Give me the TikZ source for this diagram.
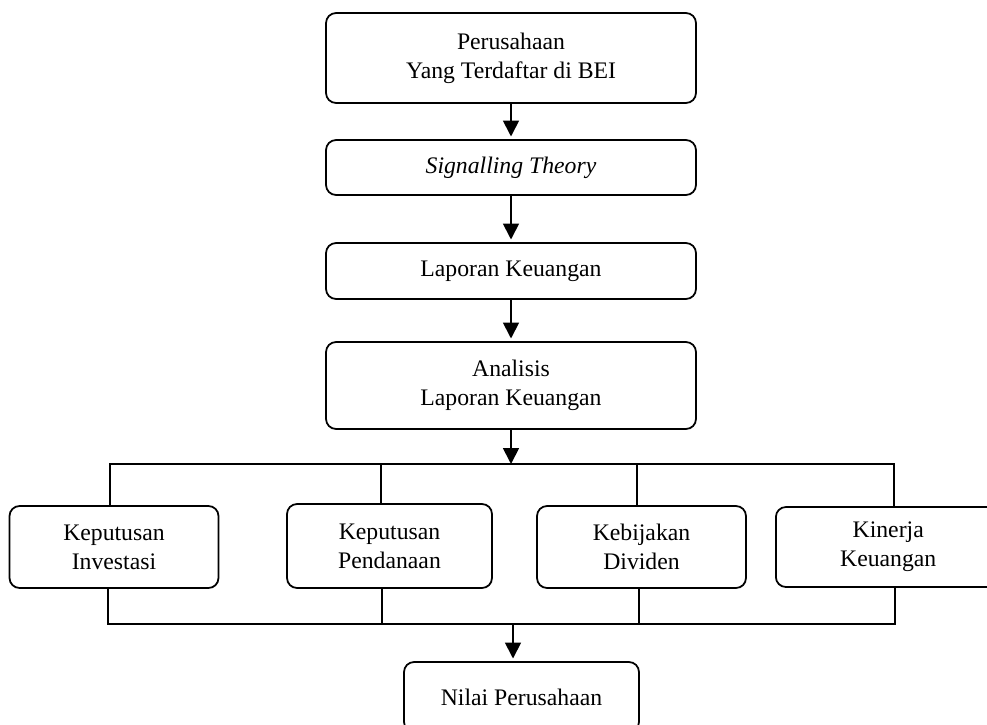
\documentclass[tikz,border=0pt]{standalone}
\usepackage{fontspec}
\setmainfont{Liberation Serif}
\usetikzlibrary{arrows.meta}

\begin{document}
\begin{tikzpicture}[x=0.02cm,y=-0.02cm,>={Triangle[length=9pt,width=9pt]},
  font=\fontsize{13.5}{16.5}\selectfont,line width=1pt,
  box/.style={draw,rounded corners=0.2cm,align=center,inner sep=0pt},
  flow/.style={->,shorten >=1.5pt}]
\useasboundingbox (0,0) rectangle (987,724);
% main column
\node[box,minimum width=7.4cm,minimum height=1.8cm] (bei) at (511,58) {Perusahaan\\Yang Terdaftar di BEI};
\node[box,minimum width=7.4cm,minimum height=1.1cm] (sig) at (511,167.5) {\textit{Signalling Theory}};
\node[box,minimum width=7.4cm,minimum height=1.12cm] (lap) at (511,271) {Laporan Keuangan};
\node[box,minimum width=7.4cm,minimum height=1.74cm] (ana) at (511,385.5) {Analisis\\Laporan Keuangan};
% the four factors
\node[box,minimum width=4.18cm,minimum height=1.64cm] (inv) at (114,547) {Keputusan\\Investasi};
\node[box,minimum width=4.1cm,minimum height=1.68cm] (pend) at (389.5,546) {Keputusan\\Pendanaan};
\node[box,minimum width=4.18cm,minimum height=1.64cm] (div) at (641.5,547) {Kebijakan\\Dividen};
\node[box,minimum width=4.6cm,minimum height=1.6cm,anchor=west] (kin) at (775,547) {\hspace*{-3pt}Kinerja\\\hspace*{-3pt}Keuangan};
\node[box,minimum width=4.7cm,minimum height=1.4cm] (nil) at (521.5,697) {Nilai Perusahaan};
\coordinate (bar) at (511,464);
\coordinate (sum) at (513,624);
\draw[flow] (bei) -- (sig);
\draw[flow] (sig) -- (lap);
\draw[flow] (lap) -- (ana);
\draw[->] (ana) -- (bar);
\draw ([xshift=-0.08cm]inv.north) |- (bar) -| ([xshift=0.06cm]kin.north);
\draw ([xshift=-0.17cm]pend.north) -- ([xshift=-0.17cm]pend.north |- bar);
\draw ([xshift=-0.09cm]div.north) -- ([xshift=-0.09cm]div.north |- bar);
\draw ([xshift=-0.12cm]inv.south) |- (sum) -| ([xshift=0.08cm]kin.south);
\draw ([xshift=-0.15cm]pend.south) -- ([xshift=-0.15cm]pend.south |- sum);
\draw ([xshift=-0.05cm]div.south) -- ([xshift=-0.05cm]div.south |- sum);
\draw[flow] (sum) -- (sum |- nil.north);
\end{tikzpicture}
\end{document}
